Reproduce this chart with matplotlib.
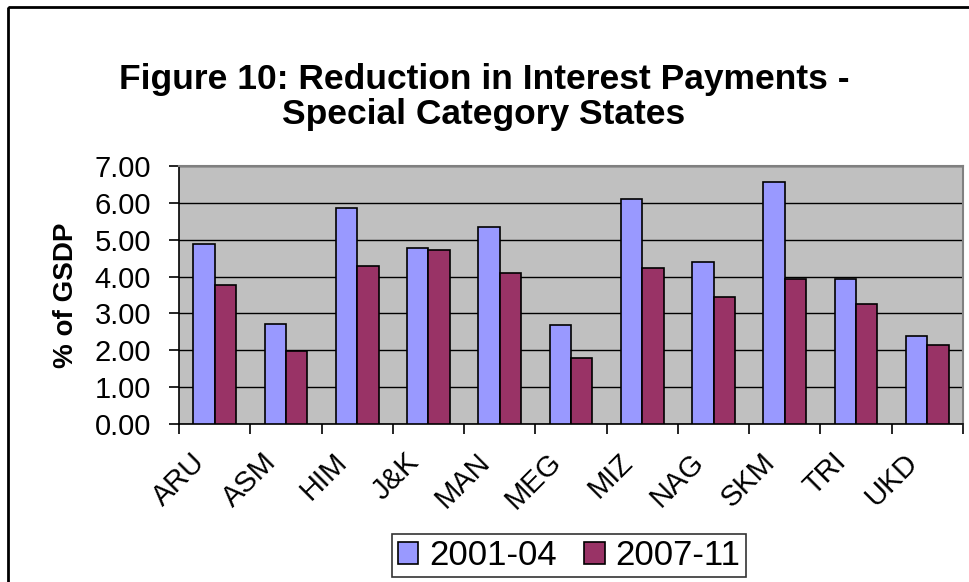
import matplotlib
matplotlib.use("Agg")
import matplotlib.pyplot as plt
import matplotlib.transforms as mtransforms
import numpy as np
from matplotlib.patches import Rectangle

states = ["ARU", "ASM", "HIM", "J&K", "MAN", "MEG", "MIZ", "NAG", "SKM", "TRI", "UKD"]
period_labels = ["2001-04", "2007-11"]
early = [4.88, 2.72, 5.85, 4.77, 5.35, 2.69, 6.10, 4.39, 6.56, 3.93, 2.39]
late = [3.76, 1.97, 4.30, 4.73, 4.10, 1.80, 4.23, 3.44, 3.93, 3.25, 2.13]
yticks = [0, 1, 2, 3, 4, 5, 6, 7]

plt.rcParams["font.family"] = ["Liberation Sans", "DejaVu Sans"]

W, H = 969, 582
fig = plt.figure(figsize=(W / 100, H / 100), dpi=100)

# outer chart border (runs off the right and bottom edges)
fig.patches.append(Rectangle((8 / W, 1 - 7 / H), 2, -2, transform=fig.transFigure,
                             fill=False, edgecolor="black", linewidth=2.0))

ax = fig.add_axes([179 / W, 1 - 424 / H, 784 / W, 258 / H])
ax.set_facecolor("#C0C0C0")

x = np.arange(len(states))
bw = 0.3
ax.bar(x - bw / 2, early, bw, color="#9999FF", edgecolor="black", linewidth=1.2,
       label=period_labels[0], zorder=3)
ax.bar(x + bw / 2, late, bw, color="#993366", edgecolor="black", linewidth=1.2,
       label=period_labels[1], zorder=3)

ax.set_xlim(-0.5, len(states) - 0.5)
ax.set_ylim(0, 7)
ax.set_yticks(yticks)
ax.set_yticklabels([f"{v:.2f}" for v in yticks], fontsize=21)
ax.yaxis.grid(True, color="black", linewidth=1.0, zorder=0)
ax.set_axisbelow(True)

ax.set_xticks(x)
ax.set_xticklabels(states, fontsize=21, rotation=45, ha="right", va="top",
                   rotation_mode="anchor")
ax.tick_params(axis="x", which="major", length=0, pad=12)
shift = mtransforms.ScaledTranslation(-0.24, -0.07, fig.dpi_scale_trans)
for lbl in ax.get_xticklabels():
    lbl.set_transform(lbl.get_transform() + shift)
ax.set_xticks(np.arange(-0.5, len(states)), minor=True)
ax.tick_params(axis="x", which="minor", length=7, width=1.2, direction="out")
ax.tick_params(axis="y", length=7, width=1.2, direction="out", pad=13)

for side in ("top", "right"):
    ax.spines[side].set_color("#808080")
    ax.spines[side].set_linewidth(1.5)
for side in ("left", "bottom"):
    ax.spines[side].set_color("black")
    ax.spines[side].set_linewidth(1.2)

ax.set_ylabel("% of GSDP", fontsize=20, fontweight="bold", labelpad=11)

fig.text(484 / W, 1 - 97 / H, "Figure 10: Reduction in Interest Payments -\nSpecial Category States",
         ha="center", va="center", fontsize=25.5, fontweight="bold", linespacing=1.05)

leg = ax.legend(loc="center", bbox_to_anchor=(569 / W, 1 - 555.5 / H),
                bbox_transform=fig.transFigure, ncol=2, fontsize=25, frameon=True,
                fancybox=False, edgecolor="black", handlelength=0.6, handleheight=0.6,
                handletextpad=0.3, columnspacing=0.8, borderpad=0.15, borderaxespad=0)
leg.get_frame().set_linewidth(1.2)

fig.savefig("out.png", dpi=100, facecolor="white")
